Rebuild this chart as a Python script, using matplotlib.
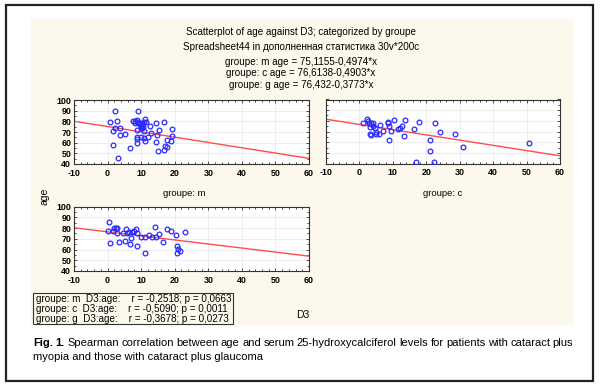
import numpy as np
import matplotlib as mpl
mpl.use('Agg')
import matplotlib.pyplot as plt
from matplotlib.patches import Rectangle
from matplotlib.ticker import MultipleLocator

plt.rcParams['font.family'] = ['Liberation Sans', 'DejaVu Sans']
plt.rcParams['axes.unicode_minus'] = False

# ========== Data ==========
m_d3 = [0.6, 2.2, 2.8, 2.1, 3.6, 1.5, 3.6, 5.1, 1.6, 3.1, 6.8,
        9.1, 7.7, 8.3, 11.1, 10.2, 10.3, 9.9, 8.7, 10.8,
        8.7, 8.7, 8.7, 10.1, 10.9, 11.2, 12.7, 12.9, 14.5, 15.2,
        14.7, 14.5, 14.9, 16.8, 17.1, 16.8, 17.7, 17.8, 18.8, 19.2, 19.1,
        8.1, 8.8, 9.2, 10.4, 10.8, 11.4, 9.6, 10.0, 9.0, 10.2, 10.6, 12.1]
m_age = [79, 89.7, 80.3, 74, 74, 71, 67, 68, 58, 45.6, 55,
         90, 80, 78, 82, 78.7, 76.5, 74, 72, 71,
         65.6, 63, 60, 65.6, 64.7, 61.6, 75.3, 68.8, 78, 72,
         67, 61, 52, 79, 57, 53, 62.5, 55.6, 62, 73, 66,
         80.3, 81.6, 79.7, 77.8, 79, 79.7, 77.2, 76, 78.4, 73.4, 74.7, 65.3]

c_d3 = [1.2, 2.2, 2.7, 3.0, 3.5, 4.2, 3.2, 4.0, 4.7, 5.0,
        3.2, 3.4, 5.0, 5.8, 6.2, 7.0, 8.4, 8.6, 8.7, 8.7,
        9.3, 10.3, 11.5, 12.2, 12.8, 13.2, 13.7, 16.2, 17.0, 17.8,
        21.0, 21.1, 22.5, 22.4, 24.2, 28.6, 31.0, 50.7]
c_age = [77.5, 82, 80, 78, 78, 77.5, 74, 75, 73, 70,
         68, 67, 68, 68, 76, 70.6, 79, 77.5, 75.6, 62.5,
         70.3, 81, 72, 73, 75.6, 66, 80.6, 72.8, 41, 79,
         62.5, 52, 77.5, 41, 69.7, 68, 55.6, 59]

g_d3 = [0.4, 0.2, 0.8, 1.5, 1.8, 2.4, 2.8, 2.9, 3.3, 4.7,
        5.1, 5.5, 5.7, 6.3, 6.8, 7.1, 7.3, 7.9, 8.4, 8.7,
        8.7, 10.0, 11.1, 11.2, 12.4, 13.3, 14.1, 14.4, 15.3, 16.4,
        17.7, 19.0, 20.4, 20.8, 21.1, 20.8, 21.5, 23.0]
g_age = [85.3, 77.3, 65.8, 77, 79.8, 79.8, 79.8, 75.7, 67, 75.7,
         68, 79, 75.7, 76, 65.2, 70.4, 76.6, 77.3, 78.8, 75.7,
         63.3, 72, 56.5, 72, 73.8, 72, 81.3, 72, 74.2, 67,
         78.8, 77.3, 73.5, 63.3, 60.2, 56.5, 58.6, 76.3]

groups = ["m", "c", "g"]
intercepts = [75.1155, 76.6138, 76.432]
slopes = [-0.4974, -0.4903, -0.3773]
intercept_txt = ["75,1155", "76,6138", "76,432"]
slope_txt = ["0,4974", "0,4903", "0,3773"]
r_txt = ["-0,2518", "-0,5090", "-0,3678"]
p_txt = ["0,0663", "0,0011", "0,0273"]

caption_bold = "Fig. 1."
caption_1 = ("Spearman correlation between age and serum 25-hydroxycalciferol "
             "levels for patients with cataract plus")
caption_2 = "myopia and those with cataract plus glaucoma"

# ========== Figure ==========
W, H = 600, 384
fig = plt.figure(figsize=(6, 3.84), dpi=100)


def px(x, y):
    return x / W, 1 - y / H


def add_ax(l, t, r, b):
    return fig.add_axes([l / W, 1 - b / H, (r - l) / W, (b - t) / H])


beige = '#fdf8ec'
fig.patches.append(Rectangle(px(31, 325), 542 / W, 306 / H, transform=fig.transFigure,
                             facecolor=beige, edgecolor='none', zorder=-2))
fig.patches.append(Rectangle(px(6, 381), 587 / W, 376 / H, transform=fig.transFigure,
                             facecolor='none', edgecolor='#222222', lw=1.6, zorder=5))

# title block
title_lines = ["Scatterplot of age against D3; categorized by groupe",
               "Spreadsheet44 in дополненная статистика 30v*200c"]
for g, a, s in zip(groups, intercept_txt, slope_txt):
    title_lines.append(f"groupe: {g} age = {a}-{s}*x")
for txt, y in zip(title_lines, [32, 47, 62, 73, 85]):
    fig.text(*px(301, y), txt, ha='center', va='center', fontsize=7.1)

# panels
boxes = [(74, 100, 309, 164), (326, 99.5, 560, 163.5), (74, 206.5, 309, 271)]
xs = [m_d3, c_d3, g_d3]
ys = [m_age, c_age, g_age]
for i, (box, x, y) in enumerate(zip(boxes, xs, ys)):
    ax = add_ax(*box)
    ax.set_xlim(-10, 60)
    ax.set_ylim(40, 100)
    ax.xaxis.set_major_locator(MultipleLocator(10))
    ax.xaxis.set_minor_locator(MultipleLocator(2))
    ax.yaxis.set_major_locator(MultipleLocator(10))
    ax.yaxis.set_minor_locator(MultipleLocator(5))
    ax.tick_params(which='both', direction='in', top=True, right=True,
                   labelsize=6.4, width=0.6, color='#333333')
    ax.tick_params(axis='x', pad=3.5)
    ax.tick_params(axis='y', pad=2)
    ax.tick_params(which='major', length=2.5)
    ax.tick_params(which='minor', length=1.5)
    for lab in ax.get_xticklabels() + ax.get_yticklabels():
        lab.set_fontweight('bold')
    if i == 1:
        ax.set_yticklabels([])
    for sp in ax.spines.values():
        sp.set_linewidth(0.8)
        sp.set_color('#333333')
    ax.grid(True, which='major', color='#e8e8e8', lw=0.5)
    ax.set_axisbelow(True)
    xl = np.array([-10, 60])
    ax.plot(xl, intercepts[i] + slopes[i] * xl, color='#ff4d4d', lw=1.0, zorder=2)
    ax.plot(x, y, 'o', mfc='none', mec='#2a2aff', ms=3.4, mew=0.9, zorder=3)

fig.text(*px(184, 194), "groupe: m", ha='center', va='center', fontsize=6.8)
fig.text(*px(443, 194), "groupe: c", ha='center', va='center', fontsize=6.8)
fig.text(*px(44, 196), "age", ha='center', va='center', fontsize=7.5, rotation=90)
fig.text(*px(303, 315), "D3", ha='center', va='center', fontsize=7.5)

# stats box
fig.patches.append(Rectangle(px(33, 324), 200 / W, 31 / H, transform=fig.transFigure,
                             facecolor=beige, edgecolor='#333333', lw=0.8, zorder=3))
for g, r, p, y in zip(groups, r_txt, p_txt, [299.5, 309, 318.5]):
    fig.text(*px(36, y), f"groupe: {g}  D3:age:    r = {r}; p = {p}",
             ha='left', va='center', fontsize=7.1, zorder=4)

# caption, line 1 justified between 33 and 573 px
renderer = fig.canvas.get_renderer()
words = [(w, 'bold') for w in caption_bold.split()]
words += [(w, 'normal') for w in caption_1.split()]
objs = [fig.text(0, 0, w, fontsize=8, fontweight=fw, va='center') for w, fw in words]
widths = [o.get_window_extent(renderer).width for o in objs]
gap = (540 - sum(widths)) / (len(objs) - 1)
xpos = 33
for o, w in zip(objs, widths):
    o.set_position(px(xpos, 343))
    xpos += w + gap
fig.text(*px(33, 357), caption_2, fontsize=8, va='center')

fig.savefig("out.png", dpi=100)
